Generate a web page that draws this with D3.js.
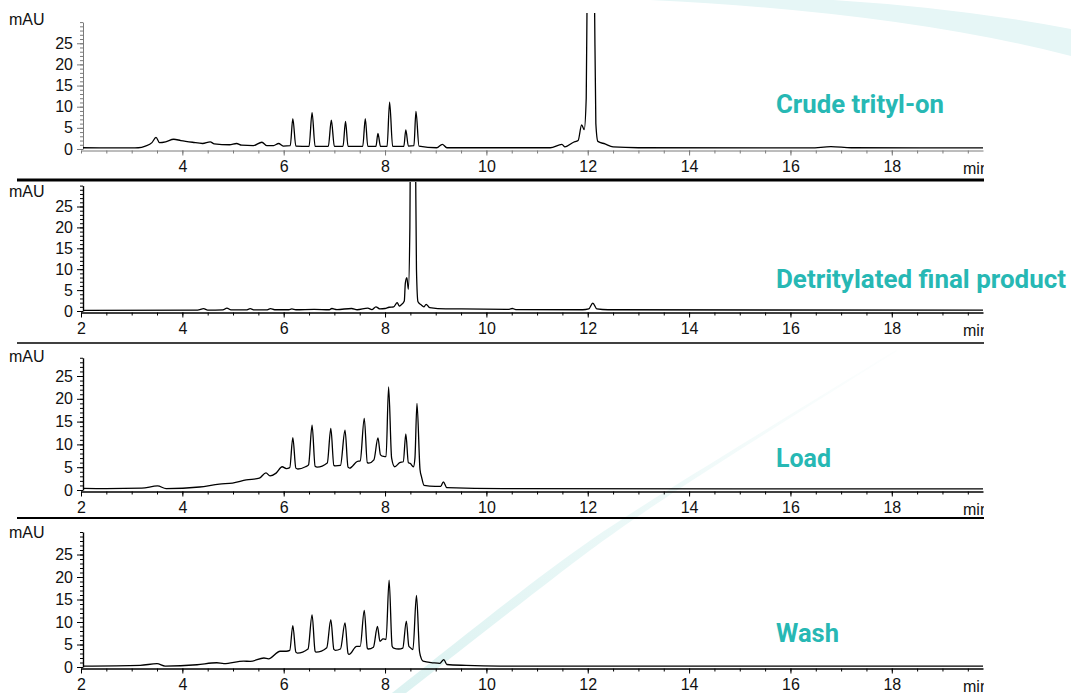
<!DOCTYPE html>
<html>
<head>
<meta charset="utf-8">
<script src="https://cdn.jsdelivr.net/npm/d3@7"></script>
<style>
  body { margin: 0; background: #fff; }
  svg { display: block; }
  .tick text { font-family: "Liberation Sans", Arial, Helvetica, sans-serif; font-size: 16px; fill: #111; }
</style>
</head>
<body>
<div id="chart"></div>
<script>
// chromatogram traces, [minutes, mAU]
const crudeTrace = [[2.0,0.3],[2.5,0.25],[3.0,0.25],[3.13,0.3],[3.27,0.7],[3.4,1.5],[3.48,2.75],[3.55,1.5],[3.67,1.7],[3.83,2.3],[3.97,2.0],[4.2,1.6],[4.4,1.3],[4.55,1.7],[4.63,1.2],[4.93,1.0],[5.07,1.3],[5.17,0.9],[5.4,0.8],[5.57,1.6],[5.67,0.8],[5.8,0.8],[5.9,1.3],[5.99,0.7],[6.13,0.8],[6.18,7.2],[6.24,0.7],[6.5,0.6],[6.56,8.6],[6.62,0.6],[6.88,0.6],[6.94,6.8],[7.0,0.6],[7.17,0.6],[7.22,6.5],[7.27,0.6],[7.56,0.6],[7.61,7.2],[7.66,0.6],[7.82,0.6],[7.86,3.7],[7.91,0.6],[8.04,0.6],[8.09,11.1],[8.15,0.6],[8.37,0.6],[8.41,4.5],[8.46,0.7],[8.57,0.8],[8.61,8.9],[8.67,0.7],[9.02,0.3],[9.13,1.1],[9.22,0.3],[11.26,0.3],[11.49,1.1],[11.55,0.5],[11.72,1.6],[11.81,2.0],[11.88,5.7],[11.93,4.6],[11.97,12],[11.99,40],[12.06,70],[12.13,40],[12.16,6],[12.2,1.8],[12.34,1.2],[12.5,0.5],[13,0.3],[16.4,0.25],[16.8,0.55],[17.2,0.3],[19.8,0.25]];

const detritTrace = [[2.0,0.15],[4.3,0.2],[4.42,0.55],[4.5,0.2],[4.8,0.25],[4.88,0.7],[4.96,0.25],[5.26,0.25],[5.34,0.55],[5.42,0.25],[5.66,0.25],[5.74,0.55],[5.82,0.3],[6.1,0.3],[6.16,0.5],[6.24,0.3],[6.6,0.4],[6.9,0.3],[6.95,0.6],[7.05,0.35],[7.34,0.6],[7.45,0.3],[7.66,0.7],[7.74,0.35],[7.82,1.0],[7.9,0.5],[8.0,0.6],[8.08,0.9],[8.17,1.0],[8.24,2.0],[8.28,1.2],[8.32,1.5],[8.38,2.4],[8.40,6.6],[8.43,8.0],[8.46,5.2],[8.49,20],[8.50,40],[8.55,70],[8.60,40],[8.62,10],[8.65,2.2],[8.72,1.4],[8.77,1.0],[8.81,1.6],[8.88,0.8],[9.2,0.5],[9.45,0.5],[10.45,0.4],[10.51,0.6],[10.58,0.35],[11.9,0.3],[12.02,0.5],[12.1,1.9],[12.18,0.5],[12.4,0.3],[19.8,0.2]];

const loadTrace = [[2.0,0.37],[2.5,0.3],[3.2,0.4],[3.51,0.9],[3.68,0.3],[4.34,0.66],[4.73,1.3],[4.99,1.5],[5.26,2.2],[5.52,2.6],[5.65,3.75],[5.73,3.1],[5.85,3.7],[5.97,5.1],[6.05,4.7],[6.12,4.9],[6.18,11.5],[6.24,4.8],[6.28,4.6],[6.43,5.1],[6.49,5.5],[6.56,14.2],[6.62,5.2],[6.66,5.0],[6.86,5.9],[6.93,13.5],[6.99,5.4],[7.02,5.3],[7.12,5.4],[7.21,13.1],[7.27,5.0],[7.30,4.8],[7.45,6.25],[7.51,6.4],[7.59,15.7],[7.65,6.0],[7.68,5.9],[7.78,6.6],[7.86,11.4],[7.91,7.7],[7.97,7.35],[8.02,7.3],[8.07,22.6],[8.13,7.0],[8.19,5.1],[8.29,6.0],[8.36,6.2],[8.41,12.3],[8.46,6.0],[8.50,5.8],[8.56,5.1],[8.59,7],[8.63,19.0],[8.69,4.5],[8.72,2.9],[8.77,1.0],[8.99,0.8],[9.1,0.8],[9.15,1.8],[9.22,0.5],[10.33,0.3],[19.8,0.25]];

const washTrace = [[2.0,0.2],[3.17,0.37],[3.5,0.74],[3.66,0.2],[4.29,0.5],[4.68,0.95],[4.82,0.74],[5.21,1.3],[5.34,1.25],[5.61,2.0],[5.70,1.8],[5.93,3.5],[6.05,3.5],[6.12,3.7],[6.18,9.2],[6.24,3.3],[6.27,3.1],[6.48,4.0],[6.56,11.6],[6.62,3.5],[6.64,3.3],[6.85,4.3],[6.93,10.5],[6.99,3.9],[7.02,3.7],[7.12,4.0],[7.21,9.8],[7.27,3.0],[7.29,2.8],[7.44,4.6],[7.51,4.6],[7.59,12.6],[7.65,4.2],[7.67,4.0],[7.77,4.4],[7.85,9.0],[7.90,5.7],[7.96,6.25],[8.02,6.1],[8.08,19.3],[8.14,4.6],[8.17,4.2],[8.27,4.0],[8.35,4.2],[8.42,10.2],[8.47,4.6],[8.49,4.4],[8.55,3.85],[8.62,15.9],[8.68,3.5],[8.70,2.4],[8.75,1.3],[8.95,0.93],[9.08,0.8],[9.16,1.66],[9.22,0.56],[9.6,0.35],[10.27,0.2],[19.8,0.2]];

const titles = ["Crude trityl-on", "Detritylated final product", "Load", "Wash"];
const traces = [crudeTrace, detritTrace, loadTrace, washTrace];
const xMajorTicks = [2, 4, 6, 8, 10, 12, 14, 16, 18];
const yMajorTicks = [0, 5, 10, 15, 20, 25];

const W = 1071, H = 693;
const svg = d3.select("#chart").append("svg").attr("width", W).attr("height", H);

// light teal swooshes in the background
svg.append("path")
  .attr("d", "M650,0 Q900,12 1071,56 L1071,29 Q960,8 833,0 Z")
  .attr("fill", "#e6f6f6");

const grad = svg.append("defs").append("linearGradient")
  .attr("id", "streak").attr("gradientUnits", "userSpaceOnUse")
  .attr("x1", 897).attr("y1", 350).attr("x2", 400).attr("y2", 693);
grad.append("stop").attr("offset", 0).attr("stop-color", "#e6f6f5").attr("stop-opacity", 0.1);
grad.append("stop").attr("offset", 0.45).attr("stop-color", "#e2f5f4").attr("stop-opacity", 0.6);
grad.append("stop").attr("offset", 1).attr("stop-color", "#dcf2f1");

const edge = d3.line().curve(d3.curveNatural);
const leftEdge = [[896,350],[676,485],[548,571],[392,693]];
const rightEdge = [[406,693],[555,577],[679,489],[897,351]];
svg.append("path")
  .attr("d", edge(leftEdge) + "L" + edge(rightEdge).slice(1) + "Z")
  .attr("fill", "url(#streak)");

const x = d3.scaleLinear().domain([2, 19.8]).range([81, 983]);

const panels = [
  {y0: 149, k: 4.23, yMax: 30, clipTop: 13, color: "#7a7a7a", axisW: 1, showTwo: false, unitY: 25, titleY: 113, titleW: 168},
  {y0: 311, k: 4.18, yMax: 30, clipTop: 182, color: "#000", axisW: 1.4, showTwo: true, unitY: 197, titleY: 288, titleW: 290},
  {y0: 490, k: 4.56, yMax: 29, clipTop: 345, color: "#000", axisW: 1.4, showTwo: true, unitY: 362, titleY: 467, titleW: 55},
  {y0: 667, k: 4.5, yMax: 30, clipTop: 520, color: "#000", axisW: 1.4, showTwo: true, unitY: 538, titleY: 642, titleW: 63}
];

const line = d3.line()
  .x(d => x(d[0]))
  .curve(d3.curveMonotoneX);

panels.forEach((p, i) => {
  const y = d3.scaleLinear().domain([0, p.yMax]).range([p.y0, p.y0 - p.yMax * p.k]);
  const axisY = p.y0 + 1.5;
  const g = svg.append("g");

  // x axis: minor ticks every half minute
  g.append("g")
    .attr("transform", `translate(0,${axisY})`)
    .call(d3.axisBottom(x).tickValues(d3.range(2, 19.8, 0.5)).tickSize(3).tickFormat(""))
    .call(a => a.select(".domain").remove())
    .call(a => a.selectAll("line").attr("stroke", p.color));
  g.append("g")
    .attr("transform", `translate(0,${axisY})`)
    .call(d3.axisBottom(x).tickValues(p.showTwo ? xMajorTicks : xMajorTicks.slice(1))
      .tickSize(5).tickSizeOuter(0).tickPadding(5).tickFormat(d3.format("d")))
    .call(a => a.select(".domain").attr("stroke", p.color).attr("stroke-width", p.axisW))
    .call(a => a.selectAll("line").attr("stroke", p.color));

  // y axis
  g.append("g")
    .attr("transform", `translate(${x(2) + 2},0)`)
    .call(d3.axisLeft(y).tickValues(d3.range(0, p.yMax + 1)).tickSize(3).tickFormat(""))
    .call(a => a.select(".domain").remove())
    .call(a => a.selectAll("line").attr("stroke", p.color));
  g.append("g")
    .attr("transform", `translate(${x(2) + 2},0)`)
    .call(d3.axisLeft(y).tickValues(yMajorTicks).tickSize(6).tickSizeOuter(0).tickPadding(4))
    .call(a => a.select(".domain").attr("stroke", p.color).attr("stroke-width", p.axisW))
    .call(a => a.selectAll("line").attr("stroke", p.color));

  g.append("text")
    .attr("x", 9).attr("y", p.unitY)
    .attr("font-family", "Liberation Sans, Arial, sans-serif")
    .attr("font-size", 16).attr("fill", "#111")
    .text("mAU");

  // "min" unit, cut off at the right edge like the source
  const cid = "clipx" + i;
  svg.append("clipPath").attr("id", cid)
    .append("rect").attr("x", 0).attr("y", 0).attr("width", 984).attr("height", H);
  g.append("text")
    .attr("clip-path", `url(#${cid})`)
    .attr("x", 963).attr("y", axisY + 23)
    .attr("font-family", "Liberation Sans, Arial, sans-serif")
    .attr("font-size", 16).attr("fill", "#111")
    .text("min");

  // trace
  const tid = "clipt" + i;
  svg.append("clipPath").attr("id", tid)
    .append("rect").attr("x", x(2) + 2).attr("y", p.clipTop)
    .attr("width", 984 - x(2) - 2).attr("height", axisY + 4 - p.clipTop);
  g.append("path")
    .datum(traces[i])
    .attr("clip-path", `url(#${tid})`)
    .attr("d", line.y(d => y(d[1])))
    .attr("fill", "none")
    .attr("stroke", "#000")
    .attr("stroke-width", 1.3)
    .attr("stroke-linejoin", "round");

  // title
  g.append("text")
    .attr("x", 776).attr("y", p.titleY)
    .attr("font-family", "Roboto, 'Liberation Sans', sans-serif")
    .attr("font-weight", 700)
    .attr("font-size", 26)
    .attr("fill", "#27b8b4")
    .attr("textLength", p.titleW)
    .attr("lengthAdjust", "spacingAndGlyphs")
    .text(titles[i]);
});

// separators between the panels
const sepY = [180, 343, 518];
const sepW = [3, 1.4, 2];
sepY.forEach((s, i) => {
  svg.append("line")
    .attr("x1", 17).attr("x2", 984)
    .attr("y1", s).attr("y2", s)
    .attr("stroke", "#000").attr("stroke-width", sepW[i]);
});
</script>
</body>
</html>
